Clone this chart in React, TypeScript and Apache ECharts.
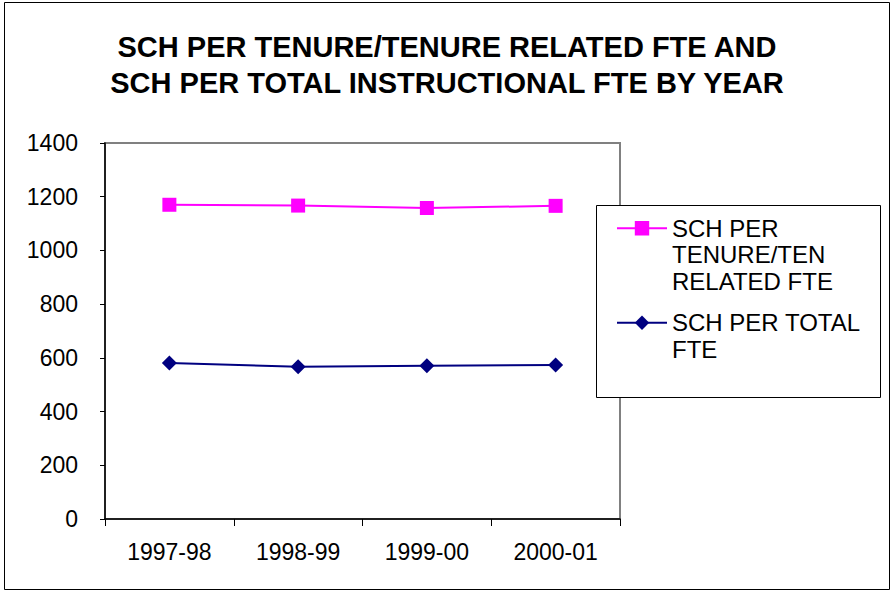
import React, { useEffect, useRef } from "react";
import * as echarts from "echarts";

const categories = ["1997-98", "1998-99", "1999-00", "2000-01"];
const tenureSeriesName = "SCH PER TENURE/TEN RELATED FTE";
const totalSeriesName = "SCH PER TOTAL FTE";
const tenureValues = [1170, 1167, 1158, 1166];
const totalValues = [581, 567, 571, 573];
// leading blank lines keep the first text line level with the legend icon
const legendLabels: Record<string, string> = {
  [tenureSeriesName]: "\n\nSCH PER\nTENURE/TEN\nRELATED FTE",
  [totalSeriesName]: "\nSCH PER TOTAL\nFTE",
};
const titleText = "SCH PER TENURE/TENURE RELATED FTE AND\nSCH PER TOTAL INSTRUCTIONAL FTE BY YEAR";

const FONT = "'Liberation Sans', Arial, sans-serif";

export default function App() {
  const ref = useRef<HTMLDivElement>(null);
  useEffect(() => {
    if (!ref.current) return;
    const chart = echarts.init(ref.current, undefined, { renderer: "svg" });
    const legendText = { fontSize: 24, lineHeight: 26.5, fontFamily: FONT, color: "#000" };
    chart.setOption({
      animation: false,
      backgroundColor: "#fff",
      title: {
        text: titleText,
        left: "center",
        top: 24,
        textStyle: { fontSize: 29, fontWeight: "bold", fontFamily: FONT, color: "#000", lineHeight: 36 },
      },
      graphic: [
        { type: "rect", shape: { x: 4.5, y: 2.5, width: 885, height: 587 }, style: { fill: "none", stroke: "#000", lineWidth: 1 }, z: 10 },
        { type: "rect", shape: { x: 596.5, y: 205.5, width: 284, height: 192 }, style: { fill: "#fff", stroke: "#000", lineWidth: 1 }, z: 5 },
      ],
      legend: [
        {
          data: [tenureSeriesName],
          orient: "vertical",
          left: 616,
          top: 162,
          padding: 0,
          itemWidth: 50,
          itemHeight: 18,
          formatter: (n: string) => legendLabels[n] || n,
          textStyle: legendText,
          z: 20,
        },
        {
          data: [totalSeriesName],
          orient: "vertical",
          left: 616,
          top: 283,
          padding: 0,
          itemWidth: 50,
          itemHeight: 18,
          formatter: (n: string) => legendLabels[n] || n,
          textStyle: legendText,
          z: 20,
        },
      ],
      grid: {
        left: 105,
        top: 143,
        width: 515,
        height: 376,
        show: true,
        borderColor: "#808080",
        borderWidth: 2,
        backgroundColor: "#fff",
      },
      xAxis: {
        type: "category",
        data: categories,
        boundaryGap: true,
        axisLine: { show: true, lineStyle: { color: "#000", width: 1.5 } },
        axisTick: { show: true, length: 7, lineStyle: { color: "#000" } },
        axisLabel: { fontSize: 23, fontFamily: FONT, color: "#000", margin: 21 },
      },
      yAxis: {
        type: "value",
        min: 0,
        max: 1400,
        interval: 200,
        splitLine: { show: false },
        axisLine: { show: true, lineStyle: { color: "#000", width: 1.5 } },
        axisTick: { show: true, length: 5, lineStyle: { color: "#000" } },
        axisLabel: { fontSize: 23, fontFamily: FONT, color: "#000", margin: 27, formatter: (v: number) => String(v) },
      },
      series: [
        {
          name: tenureSeriesName,
          type: "line",
          data: tenureValues,
          symbol: "rect",
          symbolSize: 14,
          color: "#FF00FF",
          lineStyle: { color: "#FF00FF", width: 2 },
          itemStyle: { color: "#FF00FF" },
        },
        {
          name: totalSeriesName,
          type: "line",
          data: totalValues,
          symbol: "diamond",
          symbolSize: 15,
          color: "#000080",
          lineStyle: { color: "#000080", width: 2 },
          itemStyle: { color: "#000080" },
        },
      ],
    });
    return () => chart.dispose();
  }, []);
  return <div ref={ref} style={{ position: "absolute", left: 0, top: 0, width: 894, height: 593 }} />;
}
